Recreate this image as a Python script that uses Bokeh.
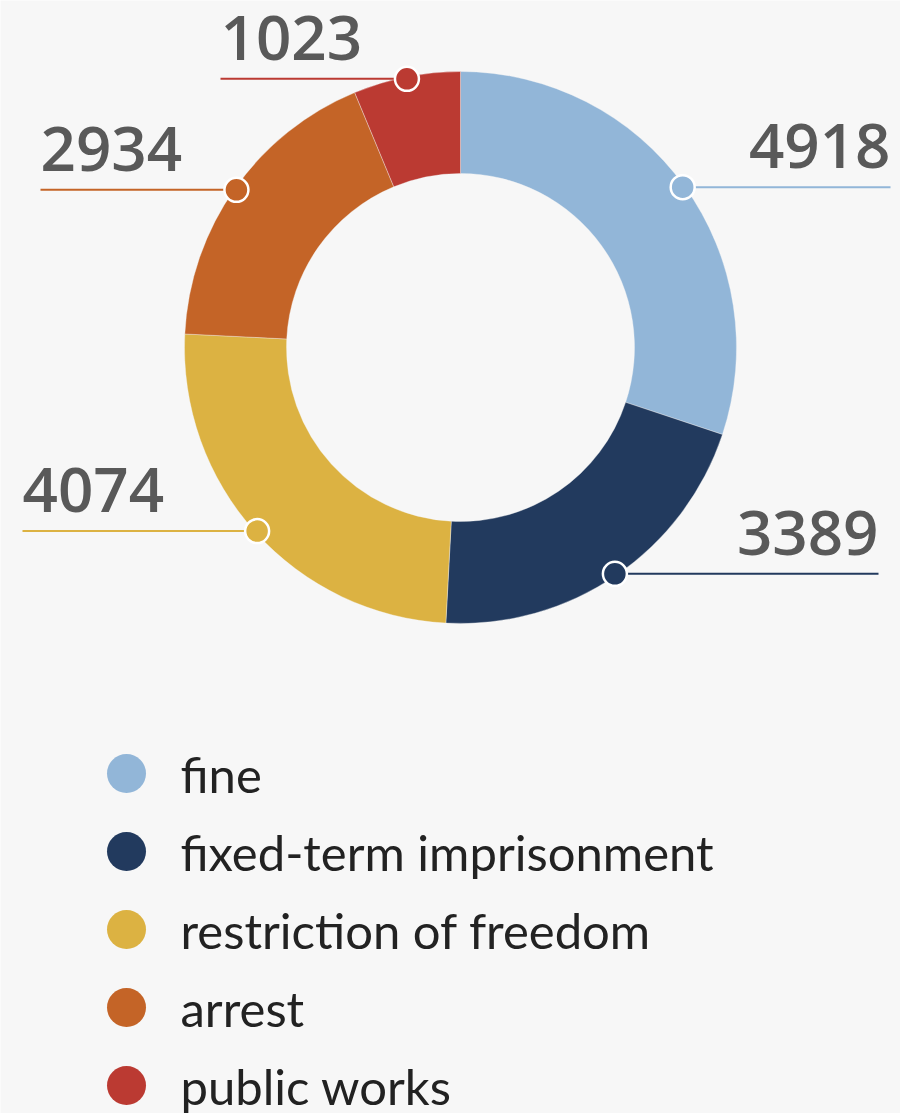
import numpy as np
from bokeh.plotting import figure
from bokeh.models import Range1d, ColumnDataSource
from bokeh.embed import file_html
from bokeh.resources import INLINE
from bokeh.core.properties import value

# ---- data ----
categories = ["fine", "fixed-term imprisonment", "restriction of freedom", "arrest", "public works"]
counts = [4918, 3389, 4074, 2934, 1023]
colors = ["#92b6d8", "#223a5e", "#dcb242", "#c46427", "#bb3a32"]

# ---- layout (page pixels) ----
W, H = 900, 1113
CX, CY = 460, 347          # donut centre
R_OUT, R_IN = 276, 174
BG = "#f7f7f7"
LABEL_X = [890, 878, 22, 40, 220]   # far end of each leader line / label anchor

p = figure(width=W, height=H,
           x_range=Range1d(-CX, W - CX),
           y_range=Range1d(CY - H, CY),
           output_backend="svg", toolbar_location=None, min_border=0)
p.axis.visible = False
p.grid.visible = False
p.outline_line_color = None
p.background_fill_color = BG
p.border_fill_color = BG

vals = np.array(counts, dtype=float)
fr = vals / vals.sum()
cum_end = np.cumsum(fr)
cum_start = cum_end - fr
start = np.pi / 2 - 2 * np.pi * cum_end
end = np.pi / 2 - 2 * np.pi * cum_start
mid = (start + end) / 2

src = ColumnDataSource(dict(start=start, end=end, color=colors))
p.annular_wedge(x=0, y=0, inner_radius=R_IN, outer_radius=R_OUT,
                start_angle="start", end_angle="end", color="color",
                line_color=BG, line_width=0.6, line_alpha=0.6, source=src)

dot_r = R_OUT - 2
dx = dot_r * np.cos(mid)
dy = dot_r * np.sin(mid)
right = np.cos(mid) > 0
x_end = np.array(LABEL_X, dtype=float) - CX

p.segment(x0=dx, y0=dy, x1=x_end, y1=dy, line_color=colors, line_width=2)
p.scatter(x=dx, y=dy, size=24, fill_color=colors, line_color="white", line_width=2.5)

lab = ColumnDataSource(dict(x=x_end, y=dy + 41, t=[str(c) for c in counts],
                            align=["right" if r else "left" for r in right]))
p.text(x="x", y="y", text="t", text_align="align", text_baseline="middle",
       text_font=value("'Open Sans SemiBold', 'Open Sans Semibold', 'Open Sans'"),
       text_font_style="bold", text_font_size="62px",
       text_color="#595959", source=lab)

# ---- legend ----
LEG_TOP, LEG_STEP = 773, 78
ly = np.array([CY - (LEG_TOP + i * LEG_STEP) for i in range(len(categories))], dtype=float)
p.scatter(x=126 - CX, y=ly, size=39, fill_color=colors, line_color=None)
p.text(x=180 - CX, y=ly, text=categories, text_align="left", text_baseline="middle",
       text_font=value("Lato"), text_font_size="49px",
       text_color="#222222")

open("out.html", "w").write(file_html(p, INLINE))
